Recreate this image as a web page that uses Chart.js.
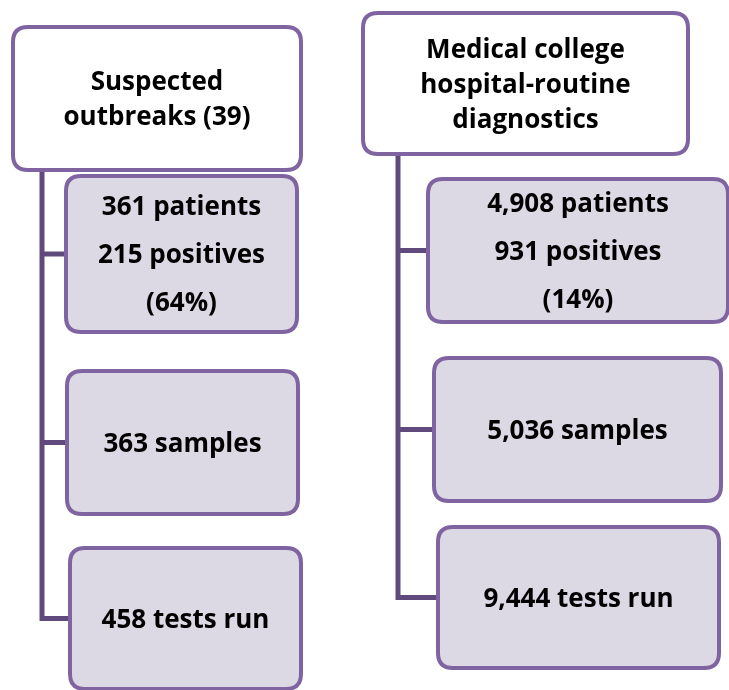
<!DOCTYPE html>
<html>
<head>
<meta charset="utf-8">
<script src="https://cdn.jsdelivr.net/npm/chart.js@4.4.1/dist/chart.umd.min.js"></script>
<style>
    html, body { margin: 0; padding: 0; background: #ffffff; }
    #wrap { width: 729px; height: 690px; }
</style>
</head>
<body>
<div id="wrap"><canvas id="flowChart" width="729" height="690"></canvas></div>
<script>
// ===== DATI =====
const groups = ['Suspected outbreaks', 'Medical college hospital-routine diagnostics'];
const outbreakCount = 39;
const patients = [361, 4908];
const positives = [215, 931];
const positivePct = [64, 14];
const samples = [363, 5036];
const testsRun = [458, 9444];

// ===== LAYOUT (coordinate in unita della scala, 0..729 x 0..690) =====
const headerBoxes = [
    { x0: 13, y0: 27, x1: 301, y1: 170 },
    { x0: 363, y0: 13, x1: 688, y1: 154 }
];
const childBoxes = [
    [
        { x0: 66, y0: 176, x1: 297, y1: 332 },
        { x0: 67, y0: 371, x1: 298, y1: 514 },
        { x0: 70, y0: 548, x1: 301, y1: 689 }
    ],
    [
        { x0: 428, y0: 179, x1: 728, y1: 322 },
        { x0: 434, y0: 358, x1: 721, y1: 501 },
        { x0: 438, y0: 527, x1: 719, y1: 668 }
    ]
];
const trunkX = [42, 398];

const fmt = (n) => n.toLocaleString('en-US');

function headerLines(i) {
    if (i === 0) return ['Suspected', 'outbreaks (' + outbreakCount + ')'];
    return ['Medical college', 'hospital-routine', 'diagnostics'];
}

function childLines(i) {
    return [
        [fmt(patients[i]) + ' patients', fmt(positives[i]) + ' positives', '(' + positivePct[i] + '%)'],
        [fmt(samples[i]) + ' samples'],
        [fmt(testsRun[i]) + ' tests run']
    ];
}

const borderColor = '#8064a2';
const lineColor = '#604a7b';
const fillColor = '#dcd8e4';
const textColor = '#000000';
const fontStack = 'bold 26px "Open Sans", Lato, sans-serif';

function roundRect(ctx, x, y, w, h, r) {
    ctx.beginPath();
    ctx.moveTo(x + r, y);
    ctx.lineTo(x + w - r, y);
    ctx.quadraticCurveTo(x + w, y, x + w, y + r);
    ctx.lineTo(x + w, y + h - r);
    ctx.quadraticCurveTo(x + w, y + h, x + w - r, y + h);
    ctx.lineTo(x + r, y + h);
    ctx.quadraticCurveTo(x, y + h, x, y + h - r);
    ctx.lineTo(x, y + r);
    ctx.quadraticCurveTo(x, y, x + r, y);
    ctx.closePath();
}

const flowPlugin = {
    id: 'flowBoxes',
    afterDraw(chart) {
        const ctx = chart.ctx;
        const sx = chart.scales.x;
        const sy = chart.scales.y;
        const px = (v) => sx.getPixelForValue(v);
        const py = (v) => sy.getPixelForValue(v);

        const drawBox = (b, fill, lines, gap) => {
            const x0 = px(b.x0), x1 = px(b.x1), y0 = py(b.y0), y1 = py(b.y1);
            ctx.save();
            roundRect(ctx, x0, y0, x1 - x0, y1 - y0, 15);
            ctx.fillStyle = fill;
            ctx.fill();
            ctx.lineWidth = 4;
            ctx.strokeStyle = borderColor;
            ctx.stroke();
            ctx.fillStyle = textColor;
            ctx.font = fontStack;
            ctx.textAlign = 'center';
            ctx.textBaseline = 'middle';
            const cx = (x0 + x1) / 2;
            const cy = (y0 + y1) / 2 + 2;
            const start = cy - gap * (lines.length - 1) / 2;
            lines.forEach((t, k) => ctx.fillText(t, cx, start + k * gap));
            ctx.restore();
        };

        groups.forEach((g, i) => {
            const kids = childBoxes[i];
            const tx = px(trunkX[i]);
            // linee di collegamento
            ctx.save();
            ctx.strokeStyle = lineColor;
            ctx.lineWidth = 5;
            ctx.lineCap = 'butt';
            ctx.beginPath();
            ctx.moveTo(tx, py(headerBoxes[i].y1));
            const last = kids[kids.length - 1];
            const lastMid = (last.y0 + last.y1) / 2;
            ctx.lineTo(tx, py(lastMid) + 2.5);
            kids.forEach((b) => {
                const mid = py((b.y0 + b.y1) / 2);
                ctx.moveTo(tx - 2.5, mid);
                ctx.lineTo(px(b.x0), mid);
            });
            ctx.stroke();
            ctx.restore();

            drawBox(headerBoxes[i], '#ffffff', headerLines(i), 35);
            const lines = childLines(i);
            kids.forEach((b, k) => drawBox(b, fillColor, lines[k], 48));
        });
    }
};

new Chart(document.getElementById('flowChart'), {
    type: 'scatter',
    data: { datasets: [{ data: [], pointRadius: 0 }] },
    options: {
        responsive: false,
        animation: false,
        devicePixelRatio: 1,
        layout: { padding: 0 },
        plugins: { legend: { display: false }, tooltip: { enabled: false } },
        scales: {
            x: { type: 'linear', min: 0, max: 729, display: false },
            y: { type: 'linear', min: 0, max: 690, reverse: true, display: false }
        }
    },
    plugins: [flowPlugin]
});
</script>
</body>
</html>
